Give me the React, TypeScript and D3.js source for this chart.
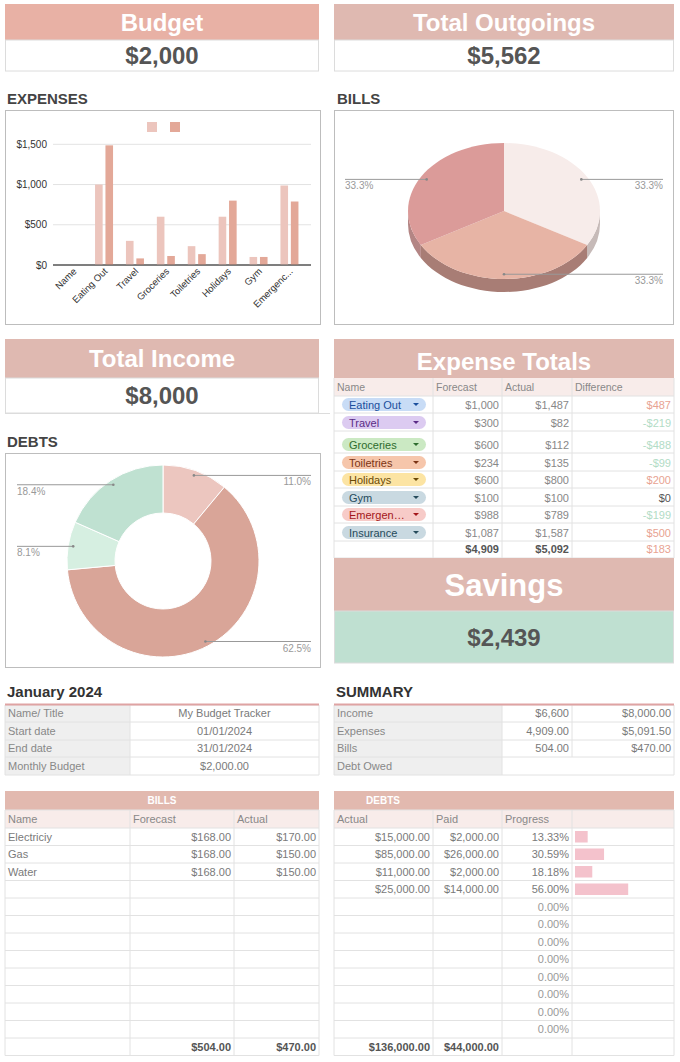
import React from 'react';
import * as d3 from 'd3';

const FONT = "'Liberation Sans', Arial, Helvetica, sans-serif";

// ---------- data ----------
const expenseCategories = ['Name', 'Eating Out', 'Travel', 'Groceries', 'Toiletries', 'Holidays', 'Gym', 'Emergenc...'];
const expenseForecast = [0, 1000, 300, 600, 234, 600, 100, 988];
const expenseActual = [0, 1487, 82, 112, 135, 800, 100, 789];
const expenseTicks = [0, 500, 1000, 1500];

const billNames = ['Electriciy', 'Gas', 'Water'];
const billForecast = [168, 168, 168];
const billActual = [170, 150, 150];

const debtActual = [15000, 85000, 11000, 25000];
const debtPaid = [2000, 26000, 2000, 14000];

const tableNames = ['Eating Out', 'Travel', 'Groceries', 'Toiletries', 'Holidays', 'Gym', 'Emergen…', 'Insurance'];
const tableForecast = [1000, 300, 600, 234, 600, 100, 988, 1087];
const tableActual = [1487, 82, 112, 135, 800, 100, 789, 1587];
const tableDiff = [487, -219, -488, -99, 200, 0, -199, 500];
const tableTotals = [4909, 5092, 183];

const janLabels = ['Name/ Title', 'Start date', 'End date', 'Monthly Budget'];
const janValues = ['My Budget Tracker', '01/01/2024', '31/01/2024', '$2,000.00'];

const summaryLabels = ['Income', 'Expenses', 'Bills', 'Debt Owed'];
const summaryPlanned = ['$6,600', '4,909.00', '504.00', ''];
const summaryActual = ['$8,000.00', '$5,091.50', '$470.00', ''];

const budget = 2000;
const totalOutgoings = 5562;
const totalIncome = 8000;
const savings = 2439;

// ---------- styles ----------
const pillBg = ['#c8dcf6', '#dccbf1', '#cbe9c3', '#f6c6ab', '#fce4a3', '#c9d9e1', '#f7cbc8', '#c9d9e1'];
const pillFg = ['#1b4f9d', '#5a2b86', '#2e6c2e', '#7b3415', '#6b4a07', '#264b5b', '#a3161a', '#264b5b'];
const HEAD = '#dfb9b1';
const GRID = '#e2e2e2';
const TXT = '#7a7a7a';

const money0 = (v: number) => (v < 0 ? '-' : '') + '$' + d3.format(',')(Math.abs(v));
const money2 = (v: number) => '$' + d3.format(',.2f')(v);

function StatBox({ x, w, y, title, value, head, hh, vh, tSize, vSize, vBg }: any) {
  return (
    <g>
      <rect x={x} y={y} width={w} height={hh} fill={head} />
      <text x={x + w / 2} y={y + hh / 2 + tSize * 0.36} textAnchor="middle" fill="#fff" fontWeight="bold" fontSize={tSize}>{title}</text>
      <rect x={x + 0.5} y={y + hh} width={w - 1} height={vh} fill={vBg || '#fff'} stroke="#dcdcdc" />
      <text x={x + w / 2} y={y + hh + vh / 2 + vSize * 0.36} textAnchor="middle" fill="#555" fontWeight="bold" fontSize={vSize}>{value}</text>
    </g>
  );
}

function ExpensesChart() {
  const x = d3.scaleBand<string>().domain(expenseCategories).range([57.7, 304.9]);
  const y = d3.scaleLinear().domain([0, 1500]).range([265, 144.3]);
  const bw = x.bandwidth();
  return (
    <g>
      <text x={7} y={104} fontWeight="bold" fontSize={15} fill="#444">EXPENSES</text>
      <rect x={5.5} y={110.5} width={315} height={214} fill="#fff" stroke="#bdbdbd" />
      <rect x={147} y={122} width={10} height={10} fill="#ecc5bd" />
      <rect x={170} y={122} width={10} height={10} fill="#e3a898" />
      {expenseTicks.map((t) => (
        <g key={t}>
          <line x1={53} x2={311} y1={y(t)} y2={y(t)} stroke={t === 0 ? '#555' : '#e3e3e3'} />
          <text x={47} y={y(t) + 3.5} textAnchor="end" fontSize={10} fill="#333">{money0(t)}</text>
        </g>
      ))}
      {expenseCategories.map((c, i) => {
        const cx = (x(c) as number) + bw / 2;
        return (
          <g key={c}>
            <rect x={cx - 9} y={y(expenseForecast[i])} width={7.6} height={y(0) - y(expenseForecast[i])} fill="#ecc5bd" />
            <rect x={cx + 1.4} y={y(expenseActual[i])} width={7.6} height={y(0) - y(expenseActual[i])} fill="#e3a898" />
            <text transform={`translate(${cx + 4},${272}) rotate(-45)`} textAnchor="end" fontSize={9.5} fill="#333">{c}</text>
          </g>
        );
      })}
      <line x1={53} x2={311} y1={y(0)} y2={y(0)} stroke="#555" />
    </g>
  );
}

function BillsPie() {
  const cx = 504, cy = 211, rx = 96, ry = 68, depth = 13;
  const tops = ['#f7ecea', '#e7b4a5', '#db9b99'];
  const sides = ['#c6bab8', '#a87d75', '#b38584'];
  const arcs = d3.pie<number>().sort(null).startAngle(0).endAngle(2 * Math.PI)(billForecast);
  const p = (a: number, dy = 0, k = 1) => [cx + rx * k * Math.sin(a), cy - ry * k * Math.cos(a) + dy];
  const total = d3.sum(billForecast);
  return (
    <g>
      <text x={337} y={104} fontWeight="bold" fontSize={15} fill="#444">BILLS</text>
      <rect x={334.5} y={110.5} width={339} height={214} fill="#fff" stroke="#bdbdbd" />
      {arcs.map((a, i) => {
        const b0 = Math.max(a.startAngle, Math.PI / 2);
        const b1 = Math.min(a.endAngle, (3 * Math.PI) / 2);
        if (b1 <= b0) return null;
        const [x0, y0] = p(b0);
        const [x1, y1] = p(b1);
        const d = `M${x0},${y0} A${rx},${ry} 0 0 1 ${x1},${y1} L${x1},${y1 + depth} A${rx},${ry} 0 0 0 ${x0},${y0 + depth} Z`;
        return <path key={'s' + i} d={d} fill={sides[i]} />;
      })}
      {arcs.map((a, i) => {
        const [x0, y0] = p(a.startAngle);
        const [x1, y1] = p(a.endAngle);
        const large = a.endAngle - a.startAngle > Math.PI ? 1 : 0;
        const d = `M${cx},${cy} L${x0},${y0} A${rx},${ry} 0 ${large} 1 ${x1},${y1} Z`;
        return <path key={'t' + i} d={d} fill={tops[i]} />;
      })}
      {arcs.map((a, i) => {
        const mid = (a.startAngle + a.endAngle) / 2;
        const [ax, ay] = p(mid, 0, 0.93);
        const right = ax >= cx - 1;
        const ex = right ? 663 : 345;
        const label = d3.format('.1%')(billForecast[i] / total);
        return (
          <g key={'l' + i}>
            <line x1={ax} x2={ex} y1={ay} y2={ay} stroke="#999" />
            <circle cx={ax} cy={ay} r={1.3} fill="#888" />
            <text x={ex} y={ay + 10} textAnchor={right ? 'end' : 'start'} fontSize={10} fill="#999">{label}</text>
          </g>
        );
      })}
    </g>
  );
}

function DebtsDonut() {
  const cx = 163, cy = 561;
  const colors = ['#ecc6bf', '#d9a598', '#d6efe1', '#bfe1d1'];
  const arcs = d3.pie<number>().sort(null).startAngle(0).endAngle(2 * Math.PI)(debtActual);
  const arc = d3.arc<d3.PieArcDatum<number>>().innerRadius(48).outerRadius(96);
  const total = d3.sum(debtActual);
  return (
    <g>
      <text x={7} y={447} fontWeight="bold" fontSize={15} fill="#444">DEBTS</text>
      <rect x={5.5} y={453.5} width={315} height={214} fill="#fff" stroke="#bdbdbd" />
      <g transform={`translate(${cx},${cy})`}>
        {arcs.map((a, i) => (
          <path key={i} d={arc(a) as string} fill={colors[i]} stroke="#fff" strokeWidth={1} />
        ))}
      </g>
      {arcs.map((a, i) => {
        const mid = (a.startAngle + a.endAngle) / 2;
        const ax = cx + 91 * Math.sin(mid);
        const ay = cy - 91 * Math.cos(mid);
        const right = ax > cx;
        const ex = right ? 311 : 17;
        return (
          <g key={'l' + i}>
            <line x1={ax} x2={ex} y1={ay} y2={ay} stroke="#999" />
            <circle cx={ax} cy={ay} r={1.3} fill="#888" />
            <text x={ex} y={ay + 10} textAnchor={right ? 'end' : 'start'} fontSize={10} fill="#999">
              {d3.format('.1%')(debtActual[i] / total)}
            </text>
          </g>
        );
      })}
    </g>
  );
}

function ExpenseTotals() {
  const cols = [334, 433, 502, 572, 674];
  const bounds = [396, 413, 431, 453, 471, 488, 506, 523, 541, 558];
  return (
    <g>
      <rect x={334} y={339} width={340} height={39} fill={HEAD} />
      <text x={504} y={370} textAnchor="middle" fill="#fff" fontWeight="bold" fontSize={24}>Expense Totals</text>
      <rect x={334} y={378} width={340} height={18} fill="#f8ecea" />
      {['Name', 'Forecast', 'Actual', 'Difference'].map((h, i) => (
        <text key={h} x={cols[i] + 3} y={391} fontSize={10.5} fill="#888">{h}</text>
      ))}
      {bounds.map((b) => (
        <line key={b} x1={334} x2={674} y1={b} y2={b} stroke={GRID} />
      ))}
      {cols.map((c, i) => (
        <line key={c} x1={c} x2={c} y1={378} y2={558} stroke={GRID} />
      ))}
      {tableNames.map((n, i) => {
        const yb = bounds[i + 1];
        const cy = yb - 8.5;
        const d = tableDiff[i];
        const dc = d > 0 ? '#e8a392' : d < 0 ? '#b2dcc6' : '#555';
        return (
          <g key={n}>
            <rect x={342} y={cy - 6.5} width={84} height={13} rx={6.5} fill={pillBg[i]} />
            <text x={349} y={cy + 4} fontSize={11} fill={pillFg[i]}>{n}</text>
            <path d={`M${413},${cy - 1.5} L${419},${cy - 1.5} L${416},${cy + 1.5} Z`} fill={pillFg[i]} />
            <text x={499} y={cy + 4} textAnchor="end" fontSize={11} fill="#888">{money0(tableForecast[i])}</text>
            <text x={569} y={cy + 4} textAnchor="end" fontSize={11} fill="#888">{money0(tableActual[i])}</text>
            <text x={671} y={cy + 4} textAnchor="end" fontSize={11} fill={dc}>{money0(d)}</text>
          </g>
        );
      })}
      <text x={499} y={553} textAnchor="end" fontSize={11} fontWeight="bold" fill="#555">{money0(tableTotals[0])}</text>
      <text x={569} y={553} textAnchor="end" fontSize={11} fontWeight="bold" fill="#555">{money0(tableTotals[1])}</text>
      <text x={671} y={553} textAnchor="end" fontSize={11} fill="#e8a392">{money0(tableTotals[2])}</text>
    </g>
  );
}

function InfoTable({ x0, title, cols, labels, values, align }: any) {
  const rows = [705, 722, 740, 757, 775];
  const right = cols[cols.length - 1];
  return (
    <g>
      <text x={x0 + 2} y={697} fontWeight="bold" fontSize={15} fill="#333">{title}</text>
      {labels.map((l: string, i: number) => (
        <g key={l}>
          <rect x={cols[0]} y={rows[i]} width={cols[1] - cols[0]} height={rows[i + 1] - rows[i]} fill="#efefef" />
          <text x={cols[0] + 3} y={rows[i + 1] - 5} fontSize={11} fill="#888">{l}</text>
        </g>
      ))}
      {rows.map((r) => (
        <line key={r} x1={cols[0]} x2={right} y1={r} y2={r} stroke={GRID} />
      ))}
      {cols.map((c: number, i: number) => (
        <line key={c} x1={c} x2={c} y1={705} y2={i === 2 && cols.length === 4 ? 757 : 775} stroke={GRID} />
      ))}
      <line x1={cols[0]} x2={right} y1={704.5} y2={704.5} stroke="#dfa3a3" strokeWidth={2} />
      {values.map((col: string[], j: number) =>
        col.map((v: string, i: number) =>
          align === 'middle' ? (
            <text key={j + '-' + i} x={(cols[j + 1] + cols[j + 2]) / 2} y={rows[i + 1] - 5} textAnchor="middle" fontSize={11} fill={TXT}>{v}</text>
          ) : (
            <text key={j + '-' + i} x={cols[j + 2] - 3} y={rows[i + 1] - 5} textAnchor="end" fontSize={11} fill={TXT}>{v}</text>
          )
        )
      )}
    </g>
  );
}

function BottomTable({ cols, title, titleX, headers, rowsN, cells, totals, bars }: any) {
  const top = 791, hdr = 810, first = 828, rh = 17.5;
  const ys = d3.range(rowsN + 2).map((i) => first + i * rh);
  const left = cols[0], right = cols[cols.length - 1];
  const last = ys[ys.length - 1];
  return (
    <g>
      <rect x={left} y={top} width={right - left} height={hdr - top} fill="#e2b9af" />
      <text x={titleX} y={804} textAnchor="middle" fill="#fff" fontWeight="bold" fontSize={10}>{title}</text>
      <rect x={left} y={hdr} width={right - left} height={first - hdr} fill="#f8ecea" />
      {headers.map((h: string, i: number) => (
        <text key={i} x={cols[i] + 3} y={823} fontSize={11} fill="#888">{h}</text>
      ))}
      {[hdr, ...ys].map((y: number) => (
        <line key={y} x1={left} x2={right} y1={y} y2={y} stroke={GRID} />
      ))}
      {cols.map((c: number) => (
        <line key={c} x1={c} x2={c} y1={hdr} y2={last} stroke={GRID} />
      ))}
      {bars && bars.map((b: number, i: number) =>
        b > 0 ? <rect key={'b' + i} x={cols[3] + 3} y={ys[i] + 3} width={b * 95} height={rh - 6} fill="#f4c2cc" /> : null
      )}
      {cells.map((row: any[], i: number) =>
        row.map((c: any, j: number) =>
          c == null ? null : (
            <text key={i + '-' + j} x={c.left ? cols[j] + 3 : cols[j + 1] - 3} y={ys[i + 1] - 5}
              textAnchor={c.left ? 'start' : 'end'} fontSize={11} fill={c.color || TXT}>{c.t}</text>
          )
        )
      )}
      {totals.map((t: string, j: number) =>
        t ? <text key={'t' + j} x={cols[j + 1] - 3} y={last - 5} textAnchor="end" fontSize={11} fontWeight="bold" fill="#555">{t}</text> : null
      )}
    </g>
  );
}

export default function App() {
  const rowsN = 12;
  const billCells = d3.range(rowsN).map((i) =>
    i < billNames.length
      ? [{ t: billNames[i], left: true }, { t: money2(billForecast[i]) }, { t: money2(billActual[i]) }]
      : [null, null, null]
  );
  const progress = d3.range(rowsN).map((i) => (i < debtActual.length ? debtPaid[i] / debtActual[i] : 0));
  const debtCells = d3.range(rowsN).map((i) =>
    i < debtActual.length
      ? [{ t: money2(debtActual[i]) }, { t: money2(debtPaid[i]) }, { t: d3.format('.2%')(progress[i]) }, null]
      : [null, null, { t: d3.format('.2%')(0), color: '#999' }, null]
  );
  return (
    <div style={{ position: 'absolute', left: 0, top: 0, width: 680, height: 1062, background: '#fff' }}>
      <svg width={680} height={1062} style={{ display: 'block', fontFamily: FONT }}>
        <rect width={680} height={1062} fill="#fff" />
        <StatBox x={5} w={314} y={4} title="Budget" value={money0(budget)} head="#e8b1a5" hh={36} vh={31} tSize={24} vSize={24} />
        <StatBox x={334} w={340} y={4} title="Total Outgoings" value={money0(totalOutgoings)} head={HEAD} hh={36} vh={31} tSize={24} vSize={24} />
        <ExpensesChart />
        <BillsPie />
        <StatBox x={5} w={314} y={339} title="Total Income" value={money0(totalIncome)} head={HEAD} hh={39} vh={35} tSize={24} vSize={24} />
        <line x1={5} x2={330} y1={413.5} y2={413.5} stroke="#dcdcdc" />
        <ExpenseTotals />
        <StatBox x={334} w={340} y={558} title="Savings" value={money0(savings)} head={HEAD} hh={53} vh={52} tSize={31} vSize={24} vBg="#bfe0d1" />
        <DebtsDonut />
        <InfoTable x0={5} title="January 2024" cols={[5, 130, 319]} labels={janLabels} values={[janValues]} align="middle" />
        <InfoTable x0={334} title="SUMMARY" cols={[334, 502, 572, 674]} labels={summaryLabels} values={[summaryPlanned, summaryActual]} align="end" />
        <BottomTable cols={[5, 130, 234, 319]} title="BILLS" titleX={162} headers={['Name', 'Forecast', 'Actual']} rowsN={rowsN}
          cells={billCells} totals={['', money2(d3.sum(billForecast)), money2(d3.sum(billActual))]} />
        <BottomTable cols={[334, 433, 502, 572, 674]} title="DEBTS" titleX={383} headers={['Actual', 'Paid', 'Progress', '']} rowsN={rowsN}
          cells={debtCells} totals={[money2(d3.sum(debtActual)), money2(d3.sum(debtPaid)), '', '']} bars={progress} />
      </svg>
    </div>
  );
}
